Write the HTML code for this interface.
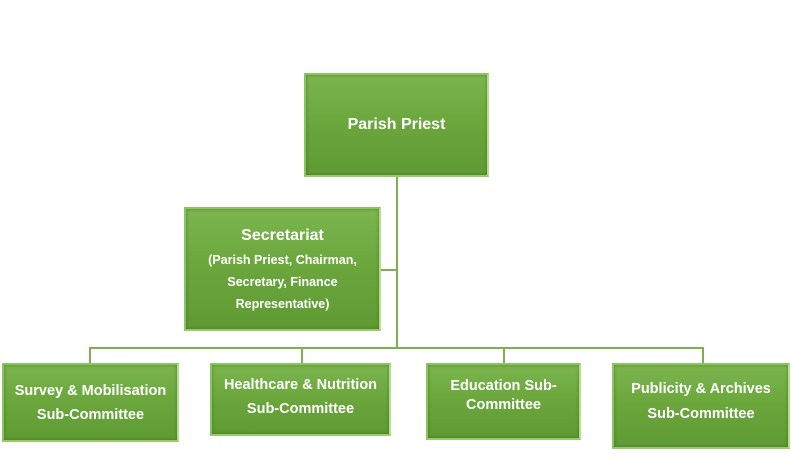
<!DOCTYPE html>
<html><head><style>
body{margin:0;width:791px;height:457px;background:#fff;position:relative;overflow:hidden;font-family:"Liberation Sans",Arial,sans-serif;}
.b{position:absolute;box-sizing:border-box;background:linear-gradient(180deg,#7cb54e 0%,#6aa63c 50%,#5f9a33 100%);border:2px solid #8cc461;border-right-color:#b6dc8e;border-bottom-color:#9acb6a;box-shadow:inset 0 0 3px rgba(40,80,20,.5);color:#fff;font-weight:bold;font-size:14.5px;text-align:center;display:flex;flex-direction:column;justify-content:center;align-items:center;line-height:24px;}
.l{position:absolute;background:#7db04f;}
</style></head><body>
<div class="l" style="left:396px;top:176px;width:2px;height:172px"></div>
<div class="l" style="left:380px;top:269px;width:17px;height:2px"></div>
<div class="l" style="left:89px;top:347px;width:614px;height:2px"></div>
<div class="l" style="left:89px;top:347px;width:2px;height:17px"></div>
<div class="l" style="left:301px;top:347px;width:2px;height:17px"></div>
<div class="l" style="left:503px;top:347px;width:2px;height:17px"></div>
<div class="l" style="left:702px;top:347px;width:2px;height:17px"></div>

<div class="b" style="left:304px;top:73px;width:185px;height:104px;font-size:16px">Parish Priest</div>
<div class="b" style="left:184px;top:207px;width:197px;height:124px;line-height:22px"><span style="font-size:16px;line-height:26px">Secretariat</span><span style="font-size:12.5px">(Parish Priest, Chairman,<br>Secretary, Finance<br>Representative)</span></div>
<div class="b" style="left:2px;top:363px;width:177px;height:79px">Survey &amp; Mobilisation<br>Sub-Committee</div>
<div class="b" style="left:210px;top:363px;width:181px;height:73px;justify-content:flex-start;padding-top:8px">Healthcare &amp; Nutrition<br>Sub-Committee</div>
<div class="b" style="left:426px;top:363px;width:155px;height:77px;line-height:19px;justify-content:flex-start;padding-top:12px">Education Sub-<br>Committee</div>
<div class="b" style="left:612px;top:363px;width:178px;height:86px;line-height:25px;justify-content:flex-start;padding-top:12px">Publicity &amp; Archives<br>Sub-Committee</div>
</body></html>
